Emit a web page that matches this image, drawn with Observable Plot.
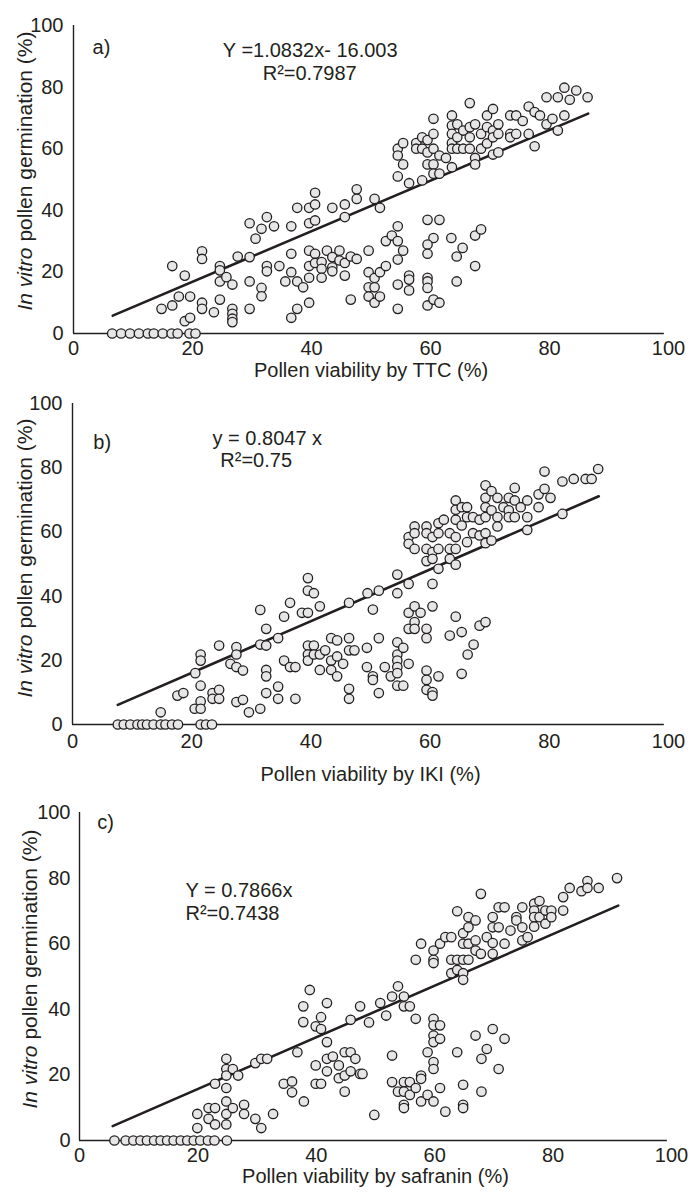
<!DOCTYPE html>
<html><head><meta charset="utf-8">
<script src="https://cdn.jsdelivr.net/npm/d3@7"></script>
<script src="https://cdn.jsdelivr.net/npm/@observablehq/plot@0.6"></script>
<style>
html,body{margin:0;padding:0;background:#fff;}
#chart{position:relative;width:695px;height:1194px;overflow:hidden;background:#fff;}
#chart svg{position:absolute;left:0;}
</style></head><body><div id="chart"></div>
<script>
const xTicks = [0, 20, 40, 60, 80, 100];
const yTicks = [0, 20, 40, 60, 80, 100];
const panelLetters = ["a)", "b)", "c)"];
const xTitles = ["Pollen viability by TTC (%)", "Pollen viability by IKI (%)", "Pollen viability by safranin (%)"];
const yTitleItalic = "In vitro";
const yTitleRest = " pollen germination (%)";
const equations = ["Y =1.0832x- 16.003", "y = 0.8047 x", "Y = 0.7866x"];
const rSquared = ["R\u00B2=0.7987", "R\u00B2=0.75", "R\u00B2=0.7438"];

// fitted lines (x, y) as drawn
const fitTTC = [[6.6, 5.8], [86.5, 71.4]];
const fitIKI = [[7.6, 6.1], [88.3, 71.1]];
const fitSaf = [[5.6, 4.4], [91.0, 71.6]];

// [viability, germination]
const pointsTTC = [
[6.5,0],[8,0],[9.5,0],[11,0],[12.5,0],[13.5,0],[15,0],[16.5,0],[17.5,0],[19.5,0],[20.5,0],
[14.8,8.0],[16.6,9.1],[16.6,21.9],[17.7,12.0],[18.7,18.8],[18.7,4.0],[19.6,12.0],[19.6,5.1],
[21.6,26.7],[21.6,24.2],[21.6,10.0],[21.6,8.0],[23.6,6.9],[24.6,21.9],[24.6,20.5],[24.6,16.9],
[24.6,11.0],[25.7,18.3],[26.7,15.9],[26.7,8.0],[26.7,6.4],[26.7,4.8],[26.7,3.7],[27.6,25.0],
[29.6,35.8],[29.6,24.8],[29.6,16.9],[29.6,8.0],[30.6,30.8],[31.6,34.0],[31.6,14.8],[31.6,12.1],
[32.5,37.8],[32.5,21.9],[32.5,20.2],[33.7,34.8],[34.6,21.9],[35.6,16.9],[36.6,34.8],[36.6,25.9],
[36.6,19.9],[36.6,5.1],[37.6,40.8],[37.6,16.9],[37.6,8.0],[38.6,15.0],[39.6,40.8],[39.6,35.8],
[39.6,26.9],[39.6,21.9],[39.6,18.1],[39.6,10.0],[40.6,45.7],[40.6,41.9],[40.6,36.7],[40.6,25.9],
[40.6,22.9],[41.7,23.2],[41.7,21.0],[41.7,18.1],[42.6,26.9],[43.5,40.8],[43.5,24.8],[43.5,21.5],
[43.5,20.2],[44.7,26.9],[44.7,23.7],[45.6,41.9],[45.6,37.8],[45.6,22.9],[45.6,18.8],[46.6,25.0],
[46.6,11.0],[47.6,46.8],[47.6,43.7],[47.6,24.2],
[50.6,43.7],[51.5,40.8],[49.6,26.9],[49.6,19.9],[49.6,15.0],[49.6,12.0],[50.6,18.0],[50.6,15.0],
[50.6,10.0],[51.5,19.9],[51.5,12.0],[52.5,21.9],[52.5,30.0],[53.5,31.8],[54.5,34.8],[54.5,30.0],
[54.5,24.0],[54.5,15.9],[54.5,8.0],[55.4,26.9],[56.4,18.8],[56.4,17.5],[56.4,14.0],[59.5,36.9],
[61.5,36.9],[60.5,31.0],[59.5,28.9],[59.5,25.9],[59.5,18.1],[59.5,16.9],[59.5,14.8],[59.5,9.1],
[60.5,11.0],[61.5,10.0],[63.5,31.0],[64.4,25.0],[65.4,27.8],[64.4,16.9],[67.5,31.8],[68.5,33.8],
[67.5,21.9],
[54.5,51.0],[54.5,60.0],[54.5,57.8],[55.4,61.8],[55.4,54.9],[56.4,48.8],[57.6,61.8],[57.6,60.0],
[58.6,63.7],[58.6,60.0],[58.6,49.7],[59.5,62.8],[59.5,54.9],[59.5,58.8],[60.5,69.7],[60.5,64.8],
[60.5,60.0],[60.5,54.9],[60.5,51.9],[61.5,57.8],[61.5,51.9],[62.6,57.0],[63.6,70.8],[63.6,67.5],
[63.6,64.8],[63.6,61.8],[63.6,60.0],[63.6,54.0],[64.5,67.9],[64.5,63.7],[64.5,60.0],[65.5,65.9],
[65.5,60.0],[66.6,74.8],[66.6,67.0],[66.6,63.7],[66.6,60.0],[67.5,67.9],[67.5,57.0],[67.5,54.9],
[68.5,60.0],[68.5,64.8],[69.5,70.8],[69.5,67.0],[69.5,61.7],[70.5,72.9],[70.5,65.9],[70.5,63.7],
[70.5,58.1],[71.4,67.9],[71.4,64.8],[71.4,58.8],[73.4,70.8],[73.4,64.8],[73.4,63.7],[74.4,70.8],
[74.4,64.8],[75.5,69.0],[76.5,73.7],[76.5,64.8],[77.5,71.9],[77.5,60.8],[78.4,70.8],[79.5,76.7],
[79.5,67.9],[80.5,69.7],[81.4,76.7],[81.4,65.9],[82.5,79.8],[82.5,70.8],[83.4,75.9],[84.5,78.9],
[86.4,76.7]
];

const pointsIKI = [
[7.6,0],[8.6,0],[9.7,0],[10.9,0],[11.7,0],[12.5,0],[13.6,0],[14.8,0],[15.6,0],[16.7,0],[17.7,0],
[21.5,0],[22.4,0],[23.4,0],
[14.8,3.8],[17.6,9.0],[18.6,9.8],[20.6,16.0],[20.5,4.9],[21.5,21.8],[21.5,19.9],[21.5,12.1],
[21.5,7.2],[21.5,4.9],[23.5,9.8],[23.5,8.0],[24.6,24.6],[24.6,10.8],[24.6,8.0],[26.5,18.9],
[27.5,24.1],[27.5,21.8],[27.5,17.9],[27.5,7.0],[28.6,16.8],[28.6,7.7],[29.6,3.8],[31.5,35.7],
[31.5,24.9],[31.5,4.9],[32.5,29.8],[32.5,24.6],[32.5,17.0],[32.5,15.0],[32.5,9.8],[34.5,26.9],
[34.5,11.8],[34.5,8.0],[35.5,33.6],[35.5,19.9],[36.5,37.9],[36.5,17.9],[37.4,17.9],[37.4,8.0],
[38.5,34.8],[39.5,45.6],[39.5,41.7],[39.5,34.8],[39.5,24.6],[39.5,21.8],[39.5,19.9],[40.5,40.9],
[40.5,24.6],[40.5,21.8],[41.5,36.8],[41.5,21.8],[41.5,17.0],[42.4,23.1],[43.4,19.9],[43.4,17.0],
[43.4,26.9],[44.4,26.2],[44.4,21.2],[44.4,15.0],[45.4,18.9],[46.4,37.9],[46.4,26.9],[46.4,23.1],
[46.4,11.1],[46.4,8.0],[47.3,23.1],
[49.5,40.9],[51.4,41.7],[54.5,46.7],[54.5,40.9],[56.4,43.8],[60.4,43.8],[50.4,35.8],
[49.4,23.9],[49.4,17.9],[50.4,15.0],[50.4,13.9],[51.4,26.9],[51.4,9.8],[52.4,17.9],[53.4,15.0],
[54.5,25.6],[54.5,21.8],[54.5,19.9],[54.5,17.9],[54.5,16.0],[54.5,12.1],[55.5,23.9],[55.5,12.1],
[56.4,18.9],[56.4,34.8],[56.4,29.8],[57.4,36.8],[57.4,31.9],[57.4,29.8],[58.4,34.8],[59.4,29.8],
[59.4,26.9],[59.4,16.8],[59.4,13.9],[59.4,10.8],[60.4,36.8],[60.4,10.1],[60.4,9.0],[61.4,15.0],
[63.3,27.7],[64.3,33.6],[65.3,28.8],[65.3,15.8],[66.3,21.8],[67.3,24.9],[68.3,30.8],[69.3,31.9],
[56.4,58.4],[56.4,56.3],[57.4,61.7],[57.4,59.6],[57.4,54.7],[59.4,61.7],[59.4,59.6],[59.4,54.7],
[59.4,50.9],[60.4,53.7],[60.4,58.4],[60.4,51.6],[61.4,62.7],[61.4,59.6],[61.4,54.7],[61.4,48.5],
[62.3,63.8],[63.3,59.6],[63.3,54.7],[63.3,51.6],[64.3,69.8],[64.3,66.9],[64.3,63.8],[64.3,58.4],
[64.3,54.7],[64.3,49.8],[65.3,62.0],[65.3,67.7],[66.2,67.7],[66.2,64.6],[66.2,56.8],[67.2,64.6],
[67.2,59.6],[68.3,63.8],[68.3,58.9],[69.3,74.5],[69.3,70.6],[69.3,67.7],[69.3,64.6],[69.3,59.6],
[69.3,56.5],[70.3,72.7],[70.3,66.7],[70.3,57.3],[71.3,70.6],[71.3,64.6],[71.3,61.7],[72.3,67.7],
[73.2,70.6],[73.2,66.7],[73.2,64.6],[74.2,73.7],[74.2,69.8],[74.2,64.6],[75.2,67.7],[76.3,69.8],
[76.3,64.6],[76.3,60.6],[78.2,71.7],[78.2,67.7],[79.2,78.8],[79.2,73.4],[80.2,70.6],[82.2,75.7],
[82.2,65.6],[84.1,76.5],[86.1,76.5],[87.1,76.5],[88.2,79.6]
];

const pointsSaf = [
[5.9,0],[7.8,0],[9.1,0],[10.3,0],[11.4,0],[12.6,0],[13.7,0],[14.8,0],[15.9,0],[17.1,0],[18.2,0],
[19.3,0],[20.4,0],[21.7,0],[22.8,0],[24.9,0],
[19.9,8.1],[19.9,3.8],[21.8,9.9],[21.8,6.6],[22.9,17.3],[22.9,9.9],[22.9,4.9],[24.8,24.9],
[24.8,21.8],[24.8,19.8],[24.8,16.0],[24.8,11.9],[24.8,8.1],[24.8,4.9],[25.9,21.8],[25.9,9.9],
[26.8,19.8],[27.8,10.9],[27.8,8.1],[29.7,23.6],[29.7,6.6],[30.7,3.8],[30.7,24.9],[31.7,24.9],
[32.7,8.1],[34.5,17.3],[35.9,18.0],[35.9,14.7],[36.8,26.9],[37.9,11.9],[37.8,40.9],[37.8,36.1],
[38.9,45.9],[39.9,17.3],[39.9,22.9],[39.9,34.8],[40.8,37.6],[40.8,34.0],[40.8,17.3],[41.8,41.9],
[41.8,30.0],[41.8,24.9],[41.8,21.1],[42.8,25.6],[43.8,22.9],[43.8,19.0],[44.8,26.9],[44.8,19.8],
[44.8,14.9],[45.8,36.8],[45.8,21.1],[45.8,26.9],[46.6,24.9],[47.4,40.9],[47.4,20.3],[47.8,20.3],
[48.9,36.0],[50.8,41.9],[51.8,38.1],[52.8,43.9],[53.8,47.0],[54.8,43.9],[54.8,40.9],[55.8,40.9],
[56.8,37.1],
[49.8,7.8],[52.8,25.9],[52.8,17.8],[53.8,14.9],[54.8,17.8],[54.8,14.9],[54.8,10.9],[54.8,9.9],
[55.8,17.8],[55.8,13.9],[56.8,16.0],[57.7,19.8],[57.7,18.8],[57.7,11.9],[58.8,13.9],[58.8,26.9],
[59.8,37.1],[59.8,35.1],[59.8,32.0],[59.8,30.0],[59.8,23.9],[59.8,21.8],[59.8,11.9],[60.9,35.1],
[60.9,31.0],[60.9,16.0],[61.8,8.8],[63.8,26.9],[64.8,17.0],[64.8,10.9],[64.8,9.9],[66.9,32.0],
[67.9,24.9],[67.9,14.9],[68.8,27.9],[69.8,34.0],[70.8,21.8],[71.8,31.0],
[56.8,55.1],[57.7,60.0],[59.8,57.9],[59.8,55.1],[59.8,54.1],[60.9,60.0],[61.8,62.0],[62.8,62.0],
[62.8,55.1],[62.8,51.0],[63.8,69.9],[63.8,55.1],[63.8,52.0],[64.8,63.2],[64.8,60.0],[64.8,55.1],
[64.8,51.0],[64.8,49.0],[65.7,68.1],[65.7,65.0],[65.7,60.0],[65.7,55.1],[66.9,67.1],[66.9,61.0],
[66.9,57.9],[67.8,75.2],[67.8,56.9],[68.8,62.0],[69.8,68.1],[69.8,65.0],[69.8,60.2],[69.8,56.9],
[70.8,71.1],[70.8,65.0],[71.8,71.1],[71.8,60.0],[72.8,64.0],[73.8,68.1],[73.8,67.1],[74.8,71.1],
[74.8,65.0],[74.8,61.0],[75.7,62.0],[76.8,72.2],[76.8,70.1],[76.8,68.1],[76.8,65.2],[77.7,73.0],
[77.7,68.1],[78.7,70.1],[78.7,66.1],[79.7,70.1],[79.7,68.1],[81.7,74.2],[81.7,70.1],[82.8,77.0],
[84.8,76.0],[85.8,79.1],[85.8,77.0],[87.7,77.0],[90.8,80.0]
];

const INK = "#231f20";
const FONT = "'Liberation Sans', Arial, Helvetica, sans-serif";

const panels = [
  {top: 0, height: 385, ml: 73, mr: 27, mt: 25, mb: 52, xpad: 7, ypad: 10,
   points: pointsTTC, fit: fitTTC, i: 0, letterPos: [3.2, 92.9],
   eqPos: [25.1, 91.9], rPos: [31.8, 84.4], titleDy: 43, yTitle: [25, 171]},
  {top: 390, height: 405, ml: 72, mr: 27, mt: 13, mb: 71, xpad: 9, ypad: 10,
   points: pointsIKI, fit: fitIKI, i: 1, letterPos: [3.5, 87.9],
   eqPos: [23.5, 89.1], rPos: [24.8, 82.2], titleDy: 56, yTitle: [25, 168]},
  {top: 795, height: 399, ml: 79, mr: 24, mt: 17, mb: 54, xpad: 7, ypad: 9,
   points: pointsSaf, fit: fitSaf, i: 2, letterPos: [3.0, 97.0],
   eqPos: [17.9, 76.2], rPos: [17.9, 69.2], titleDy: 42, yTitle: [30, 174]}
];

const container = document.getElementById("chart");

for (const cfg of panels) {
  const svg = Plot.plot({
    width: 695,
    height: cfg.height,
    marginLeft: cfg.ml, marginRight: cfg.mr, marginTop: cfg.mt, marginBottom: cfg.mb,
    style: {fontFamily: FONT, fontSize: "20px", color: INK, background: "transparent", overflow: "visible"},
    x: {domain: [0, 100]},
    y: {domain: [0, 100]},
    marks: [
      Plot.ruleY([0], {x1: 0, x2: 99.3, stroke: INK, strokeWidth: 1.4}),
      Plot.ruleX([0], {y1: 0, y2: 100, stroke: INK, strokeWidth: 1.4}),
      Plot.axisX(xTicks, {tickSize: 0, tickPadding: cfg.xpad, fontSize: 20, label: null, fill: INK}),
      Plot.axisY(yTicks, {tickSize: 0, tickPadding: cfg.ypad, fontSize: 20, label: null, fill: INK}),
      Plot.line(cfg.fit, {x: d => d[0], y: d => d[1], stroke: INK, strokeWidth: 2.6}),
      Plot.dot(cfg.points, {x: d => d[0], y: d => d[1], r: 4.7, fill: "#e6e6e6", stroke: INK, strokeWidth: 1.3}),
      Plot.text([panelLetters[cfg.i]], {x: cfg.letterPos[0], y: cfg.letterPos[1], text: d => d, textAnchor: "start", fontSize: 20, fill: INK}),
      Plot.text([equations[cfg.i]], {x: cfg.eqPos[0], y: cfg.eqPos[1], text: d => d, textAnchor: "start", fontSize: 20, fill: INK}),
      Plot.text([rSquared[cfg.i]], {x: cfg.rPos[0], y: cfg.rPos[1], text: d => d, textAnchor: "start", fontSize: 20, fill: INK}),
      Plot.text([xTitles[cfg.i]], {frameAnchor: "bottom", dy: cfg.titleDy, text: d => d, fontSize: 20, fill: INK})
    ]
  });
  svg.style.top = cfg.top + "px";
  const t = d3.select(svg).append("text")
    .attr("transform", `translate(${cfg.yTitle[0]},${cfg.yTitle[1]}) rotate(-90)`)
    .attr("text-anchor", "middle")
    .attr("dy", "0.35em")
    .attr("font-size", 21)
    .attr("font-family", FONT)
    .attr("fill", INK);
  t.append("tspan").attr("font-style", "italic").text(yTitleItalic);
  t.append("tspan").text(yTitleRest);
  container.appendChild(svg);
}
</script>
</body></html>
